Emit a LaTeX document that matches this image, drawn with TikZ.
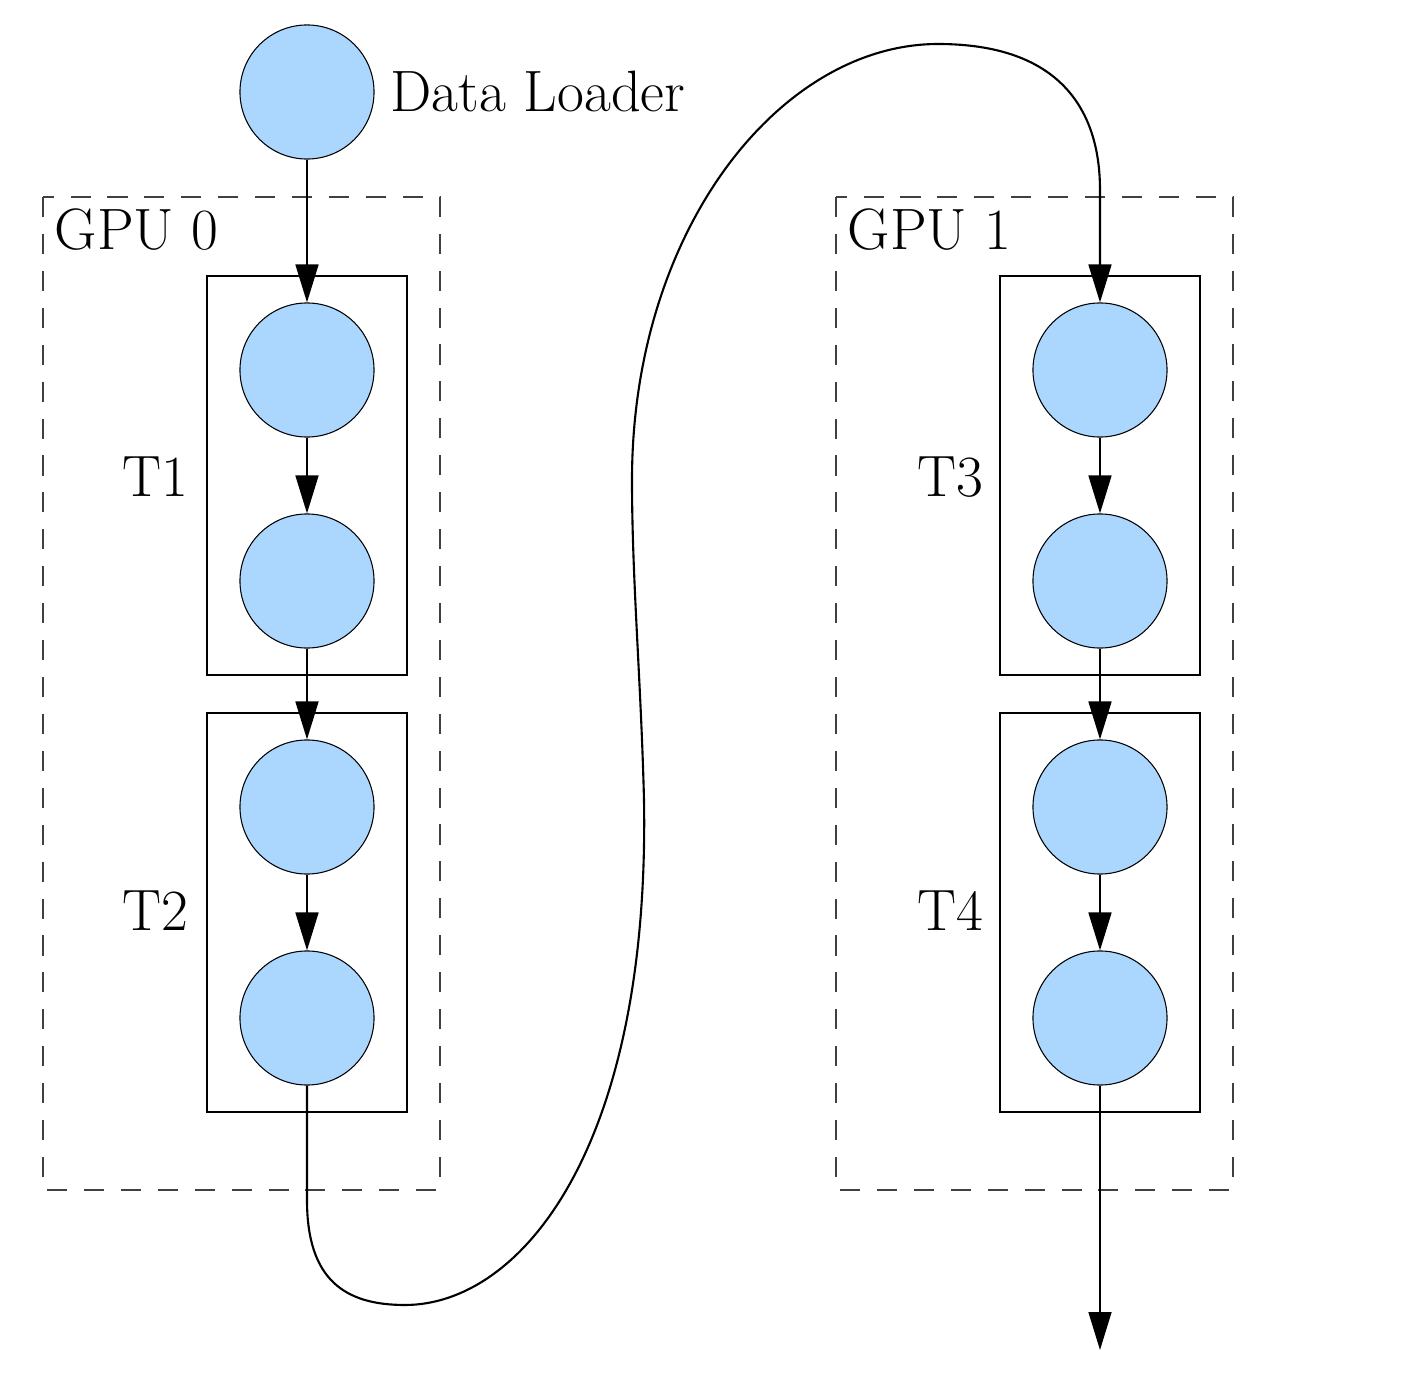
\documentclass[tikz,border=0pt]{standalone}
\usepackage{tikz}
\usetikzlibrary{arrows.meta,fit}
\definecolor{nodeblue}{RGB}{171,215,255}
\tikzset{
  layer/.style={circle, draw, line width=0.3pt, fill=nodeblue, minimum size=1.34cm, inner sep=0pt},
  flow/.style={line width=0.6pt, -{Triangle[length=10.8pt,width=6.5pt]}},
  taskbox/.style={draw, line width=0.6pt, inner xsep=0.32cm, inner ysep=0.26cm},
  gpubox/.style={draw=black!75, line width=0.75pt, dash pattern=on 5.7pt off 4.8pt},
  lbl/.style={font=\fontsize{16.6}{19}\selectfont, inner sep=0pt}
}

\begin{document}
\begin{tikzpicture}[x=0.01cm, y=-0.01cm]
  \useasboundingbox (0,0) rectangle (1423,1382);
  \draw[gpubox] (43,197) rectangle (440,1190);
  \draw[gpubox] (836,197) rectangle (1233,1190);
  \node[lbl, anchor=base west] (gpu0) at (54,250) {GPU 0};
  \node[lbl, anchor=base west] (gpu1) at (847,250) {GPU 1};
  \node[layer] (loader) at (307,92) {};
  \node[lbl, anchor=base west] (loaderlbl) at (390,112) {Data Loader};
  \node[layer] (g0a) at (307,370) {};
  \node[layer] (g0b) at (307,581) {};
  \node[layer] (g0c) at (307,807) {};
  \node[layer] (g0d) at (307,1018) {};
  \node[layer] (g1a) at (1100,370) {};
  \node[layer] (g1b) at (1100,581) {};
  \node[layer] (g1c) at (1100,807) {};
  \node[layer] (g1d) at (1100,1018) {};
  \node[taskbox, fit=(g0a) (g0b)] (t1) {};
  \node[taskbox, fit=(g0c) (g0d)] (t2) {};
  \node[taskbox, fit=(g1a) (g1b)] (t3) {};
  \node[taskbox, fit=(g1c) (g1d)] (t4) {};
  \node[lbl, anchor=base east] (t1lbl) at (189,497) {T1};
  \node[lbl, anchor=base east] (t2lbl) at (189,930) {T2};
  \node[lbl, anchor=base east] (t3lbl) at (984,497) {T3};
  \node[lbl, anchor=base east] (t4lbl) at (984,930) {T4};
  \coordinate (out) at (1100,1350);
  \draw[flow] (loader) -- (g0a);
  \draw[flow] (g0a) -- (g0b);
  \draw[flow] (g0b) -- (g0c);
  \draw[flow] (g0c) -- (g0d);
  \draw[flow] (g1a) -- (g1b);
  \draw[flow] (g1b) -- (g1c);
  \draw[flow] (g1c) -- (g1d);
  \draw[flow] (g0d.south) -- (307,1200) .. controls (307,1280) and (345,1305) .. (405,1305)
    .. controls (520,1305) and (650,1150) .. (644,800)
    .. controls (641,680) and (632,580) .. (632,480)
    .. controls (632,230) and (780,44) .. (938,44)
    .. controls (1060,44) and (1100,110) .. (1100,190) -- (g1a.north);
  \draw[flow] (g1d.south) -- (out);
\end{tikzpicture}
\end{document}
